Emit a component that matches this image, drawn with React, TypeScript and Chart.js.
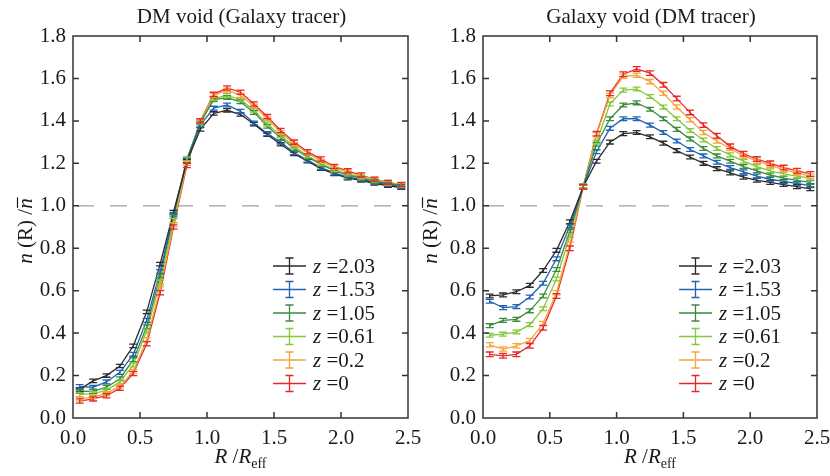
import React, { useEffect, useRef } from "react";
import { Chart, registerables } from "chart.js";

Chart.register(...registerables);

const R = [0.05, 0.15, 0.25, 0.35, 0.45, 0.55, 0.65, 0.75, 0.85, 0.95, 1.05, 1.15, 1.25, 1.35, 1.45, 1.55, 1.65, 1.75, 1.85, 1.95, 2.05, 2.15, 2.25, 2.35, 2.45];

const zLabels = ["2.03", "1.53", "1.05", "0.61", "0.2", "0"];
const colors = ["#2b2b2b", "#2163b5", "#3b8a3e", "#86c83a", "#f5a43a", "#e9262a"];

const xTicks = [0.0, 0.5, 1.0, 1.5, 2.0, 2.5];
const yTicks = [0.0, 0.2, 0.4, 0.6, 0.8, 1.0, 1.2, 1.4, 1.6, 1.8];

// Left panel: DM void (Galaxy tracer)
const dmZ203 = [0.135, 0.175, 0.2, 0.245, 0.34, 0.5, 0.725, 0.97, 1.21, 1.36, 1.435, 1.45, 1.43, 1.385, 1.335, 1.29, 1.245, 1.21, 1.175, 1.15, 1.13, 1.12, 1.105, 1.095, 1.085];
const dmZ153 = [0.148, 0.145, 0.17, 0.215, 0.3, 0.46, 0.69, 0.96, 1.215, 1.38, 1.46, 1.475, 1.445, 1.39, 1.34, 1.3, 1.25, 1.215, 1.18, 1.155, 1.135, 1.125, 1.11, 1.1, 1.09];
const dmZ105 = [0.125, 0.125, 0.145, 0.185, 0.275, 0.43, 0.67, 0.95, 1.22, 1.39, 1.5, 1.51, 1.49, 1.44, 1.375, 1.32, 1.27, 1.23, 1.195, 1.165, 1.145, 1.13, 1.115, 1.105, 1.095];
const dmZ061 = [0.11, 0.115, 0.13, 0.17, 0.25, 0.41, 0.64, 0.93, 1.22, 1.395, 1.505, 1.52, 1.5, 1.45, 1.385, 1.33, 1.28, 1.235, 1.2, 1.17, 1.15, 1.135, 1.12, 1.105, 1.097];
const dmZ02 = [0.09, 0.1, 0.115, 0.15, 0.22, 0.37, 0.61, 0.91, 1.2, 1.4, 1.52, 1.545, 1.52, 1.47, 1.41, 1.345, 1.29, 1.25, 1.21, 1.18, 1.16, 1.14, 1.125, 1.11, 1.1];
const dmZ0 = [0.08, 0.09, 0.105, 0.14, 0.21, 0.35, 0.59, 0.9, 1.19, 1.4, 1.525, 1.555, 1.535, 1.48, 1.42, 1.355, 1.3, 1.255, 1.22, 1.185, 1.165, 1.145, 1.125, 1.11, 1.1];
const dmErr = [0.008, 0.009, 0.009, 0.009, 0.009, 0.01];

// Right panel: Galaxy void (DM tracer)
const galZ203 = [0.575, 0.58, 0.595, 0.625, 0.695, 0.79, 0.925, 1.09, 1.21, 1.3, 1.34, 1.345, 1.325, 1.295, 1.26, 1.23, 1.2, 1.175, 1.155, 1.135, 1.12, 1.11, 1.1, 1.09, 1.08];
const galZ153 = [0.55, 0.52, 0.525, 0.57, 0.635, 0.75, 0.905, 1.09, 1.255, 1.365, 1.41, 1.41, 1.38, 1.345, 1.305, 1.265, 1.235, 1.205, 1.18, 1.16, 1.14, 1.125, 1.115, 1.105, 1.095];
const galZ105 = [0.435, 0.46, 0.465, 0.505, 0.575, 0.7, 0.88, 1.09, 1.29, 1.41, 1.475, 1.485, 1.455, 1.41, 1.36, 1.315, 1.27, 1.235, 1.21, 1.185, 1.165, 1.145, 1.13, 1.12, 1.11];
const galZ061 = [0.39, 0.395, 0.405, 0.44, 0.515, 0.655, 0.86, 1.095, 1.3, 1.48, 1.545, 1.55, 1.515, 1.465, 1.41, 1.355, 1.31, 1.27, 1.24, 1.21, 1.185, 1.165, 1.15, 1.14, 1.13];
const galZ02 = [0.345, 0.325, 0.34, 0.365, 0.445, 0.59, 0.82, 1.09, 1.335, 1.52, 1.61, 1.615, 1.585, 1.53, 1.465, 1.405, 1.345, 1.305, 1.27, 1.235, 1.21, 1.19, 1.17, 1.155, 1.14];
const galZ0 = [0.3, 0.293, 0.3, 0.34, 0.425, 0.575, 0.8, 1.09, 1.34, 1.53, 1.62, 1.645, 1.625, 1.57, 1.505, 1.44, 1.38, 1.33, 1.28, 1.245, 1.22, 1.2, 1.18, 1.165, 1.15];
const galErr = [0.009, 0.009, 0.009, 0.009, 0.01, 0.011];

const FONT = "'Liberation Serif', 'Times New Roman', serif";

type PanelCfg = {
  title: string;
  series: number[][];
  errs: number[];
  yAxisWidth: number;
  padRight: number;
  legendDx: number;
  yLabelDx: number;
  canvasLeft: number;
  canvasWidth: number;
};

const panelPlugin = {
  id: "panelDecor",
  beforeDatasetsDraw(chart: any) {
    const { ctx, chartArea, scales } = chart;
    const y = scales.y.getPixelForValue(1.0);
    ctx.save();
    ctx.strokeStyle = "#a0a0a0";
    ctx.lineWidth = 1.3;
    ctx.setLineDash([17, 16]);
    ctx.beginPath();
    ctx.moveTo(chartArea.left + 4, y);
    ctx.lineTo(chartArea.right, y);
    ctx.stroke();
    ctx.restore();
  },
  afterDatasetsDraw(chart: any) {
    const { ctx, scales } = chart;
    const cfg: PanelCfg = chart.options.plugins.panelDecor.cfg;
    ctx.save();
    chart.data.datasets.forEach((ds: any, di: number) => {
      const meta = chart.getDatasetMeta(di);
      const e = cfg.errs[di];
      ctx.strokeStyle = ds.borderColor;
      ctx.lineWidth = 1.3;
      meta.data.forEach((pt: any, i: number) => {
        const v = ds.data[i].y;
        const x = pt.x;
        const y1 = scales.y.getPixelForValue(v - e);
        const y2 = scales.y.getPixelForValue(v + e);
        ctx.beginPath();
        ctx.moveTo(x, y1);
        ctx.lineTo(x, y2);
        ctx.moveTo(x - 4, y1);
        ctx.lineTo(x + 4, y1);
        ctx.moveTo(x - 4, y2);
        ctx.lineTo(x + 4, y2);
        ctx.stroke();
      });
    });
    ctx.restore();
  },
  afterDraw(chart: any) {
    const { ctx, chartArea, scales } = chart;
    const cfg: PanelCfg = chart.options.plugins.panelDecor.cfg;
    const { left, right, top, bottom } = chartArea;
    ctx.save();
    // frame
    ctx.strokeStyle = "#333";
    ctx.lineWidth = 1.5;
    ctx.setLineDash([]);
    ctx.strokeRect(left, top, right - left, bottom - top);
    // inward ticks on all sides
    ctx.beginPath();
    xTicks.forEach((t) => {
      if (t <= 0 || t >= 2.5) return;
      const x = scales.x.getPixelForValue(t);
      ctx.moveTo(x, bottom);
      ctx.lineTo(x, bottom - 6);
      ctx.moveTo(x, top);
      ctx.lineTo(x, top + 6);
    });
    yTicks.forEach((t) => {
      if (t <= 0 || t >= 1.8) return;
      const y = scales.y.getPixelForValue(t);
      ctx.moveTo(left, y);
      ctx.lineTo(left + 6, y);
      ctx.moveTo(right, y);
      ctx.lineTo(right - 6, y);
    });
    ctx.stroke();

    const cx = (left + right) / 2;
    ctx.fillStyle = "#1a1a1a";
    // title
    ctx.font = `21px ${FONT}`;
    ctx.textAlign = "center";
    ctx.textBaseline = "middle";
    ctx.fillText(cfg.title, cx + 1, 17);

    // x-axis label: R /R_eff
    ctx.textBaseline = "alphabetic";
    ctx.textAlign = "left";
    const base = 463;
    const parts: [string, string, number][] = [
      ["R", `italic 21px ${FONT}`, 0],
      [" /", `21px ${FONT}`, 0],
      ["R", `italic 21px ${FONT}`, 0],
      ["eff", `14px ${FONT}`, 5],
    ];
    let total = 0;
    parts.forEach(([s, f]) => {
      ctx.font = f;
      total += ctx.measureText(s).width;
    });
    let xx = cx - total / 2;
    parts.forEach(([s, f, dy]) => {
      ctx.font = f;
      ctx.fillText(s, xx, base + dy);
      xx += ctx.measureText(s).width;
    });

    // y-axis label: n (R) /n̄
    ctx.save();
    ctx.translate(left - cfg.yLabelDx, (top + bottom) / 2 + 4);
    ctx.rotate(-Math.PI / 2);
    const yparts: [string, string][] = [
      ["n", `italic 21px ${FONT}`],
      [" (R) /", `21px ${FONT}`],
      ["n", `italic 21px ${FONT}`],
    ];
    let yt = 0;
    yparts.forEach(([s, f]) => {
      ctx.font = f;
      yt += ctx.measureText(s).width;
    });
    let yx = -yt / 2;
    ctx.textBaseline = "alphabetic";
    yparts.forEach(([s, f], i) => {
      ctx.font = f;
      ctx.fillText(s, yx, 7);
      const w = ctx.measureText(s).width;
      if (i === 2) {
        ctx.strokeStyle = "#1a1a1a";
        ctx.lineWidth = 1.2;
        ctx.beginPath();
        ctx.moveTo(yx + 1, -7.5);
        ctx.lineTo(yx + w + 1, -7.5);
        ctx.stroke();
      }
      yx += w;
    });
    ctx.restore();

    // legend
    const lx1 = left + cfg.legendDx;
    const lx2 = lx1 + 33;
    const rows = [266, 289.5, 313, 336.5, 360, 383.5];
    chart.data.datasets.forEach((ds: any, i: number) => {
      const y = rows[i];
      const mx = (lx1 + lx2) / 2;
      ctx.strokeStyle = ds.borderColor;
      ctx.lineWidth = 1.3;
      ctx.beginPath();
      ctx.moveTo(lx1, y);
      ctx.lineTo(lx2, y);
      ctx.moveTo(mx, y - 8);
      ctx.lineTo(mx, y + 8);
      ctx.moveTo(mx - 4, y - 8);
      ctx.lineTo(mx + 4, y - 8);
      ctx.moveTo(mx - 4, y + 8);
      ctx.lineTo(mx + 4, y + 8);
      ctx.stroke();
      ctx.fillStyle = "#1a1a1a";
      ctx.textBaseline = "middle";
      ctx.textAlign = "left";
      let tx = lx2 + 7;
      ctx.font = `italic 21px ${FONT}`;
      ctx.fillText("z", tx, y + 1);
      tx += ctx.measureText("z").width;
      ctx.font = `21px ${FONT}`;
      ctx.fillText(" =" + zLabels[i], tx, y + 1);
    });
    ctx.restore();
  },
};

function Panel({ cfg }: { cfg: PanelCfg }) {
  const ref = useRef<HTMLCanvasElement | null>(null);
  useEffect(() => {
    if (!ref.current) return;
    const chart = new Chart(ref.current, {
      type: "line",
      data: {
        datasets: cfg.series.map((vals, i) => ({
          label: "z =" + zLabels[i],
          data: R.map((x, j) => ({ x, y: vals[j] })),
          borderColor: colors[i],
          backgroundColor: colors[i],
          borderWidth: 1.3,
          pointRadius: 0,
          tension: 0,
          fill: false,
        })),
      },
      options: {
        responsive: false,
        animation: false,
        devicePixelRatio: 1,
        layout: { padding: { top: 36, right: cfg.padRight, left: 0, bottom: 0 } },
        plugins: {
          legend: { display: false },
          tooltip: { enabled: false },
          title: { display: false },
          panelDecor: { cfg },
        } as any,
        scales: {
          x: {
            type: "linear",
            min: 0,
            max: 2.5,
            grid: { display: false, drawTicks: false },
            border: { display: false },
            ticks: {
              stepSize: 0.5,
              padding: 8,
              maxRotation: 0,
              color: "#1a1a1a",
              font: { family: FONT, size: 21 },
              callback: (v: any) => Number(v).toFixed(1),
            },
            afterFit: (s: any) => {
              s.height = 58;
              s.paddingLeft = 0;
              s.paddingRight = 0;
            },
          },
          y: {
            type: "linear",
            min: 0,
            max: 1.8,
            grid: { display: false, drawTicks: false },
            border: { display: false },
            ticks: {
              stepSize: 0.2,
              padding: 7,
              color: "#1a1a1a",
              font: { family: FONT, size: 21 },
              callback: (v: any) => Number(v).toFixed(1),
            },
            afterFit: (s: any) => {
              s.width = cfg.yAxisWidth;
              s.paddingTop = 0;
              s.paddingBottom = 0;
            },
          },
        },
      },
      plugins: [panelPlugin as any],
    });
    return () => chart.destroy();
  }, [cfg]);
  return (
    <canvas
      ref={ref}
      width={cfg.canvasWidth}
      height={476}
      style={{
        position: "absolute",
        left: cfg.canvasLeft,
        top: 0,
        display: "block",
        width: cfg.canvasWidth,
        height: 476,
      }}
    />
  );
}

const leftCfg: PanelCfg = {
  title: "DM void (Galaxy tracer)",
  series: [dmZ203, dmZ153, dmZ105, dmZ061, dmZ02, dmZ0],
  errs: dmErr,
  yAxisWidth: 73,
  padRight: 22,
  legendDx: 200,
  yLabelDx: 48,
  canvasLeft: 0,
  canvasWidth: 430,
};

const rightCfg: PanelCfg = {
  title: "Galaxy void (DM tracer)",
  series: [galZ203, galZ153, galZ105, galZ061, galZ02, galZ0],
  errs: galErr,
  yAxisWidth: 68,
  padRight: 13,
  legendDx: 196,
  yLabelDx: 53,
  canvasLeft: 415,
  canvasWidth: 415,
};

export default function App() {
  return (
    <div
      style={{
        position: "absolute",
        left: 0,
        top: 0,
        width: 830,
        height: 476,
        background: "#fff",
      }}
    >
      <Panel cfg={leftCfg} />
      <Panel cfg={rightCfg} />
    </div>
  );
}
